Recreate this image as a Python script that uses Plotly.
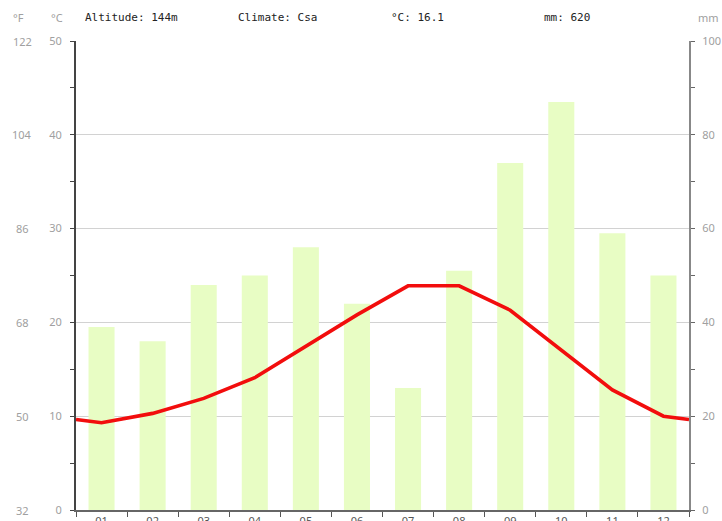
import plotly.graph_objects as go

months = ["01", "02", "03", "04", "05", "06", "07", "08", "09", "10", "11", "12"]
precip_mm = [39, 36, 48, 50, 56, 44, 26, 51, 74, 87, 59, 50]
temp_c = [9.3, 10.3, 11.9, 14.1, 17.5, 20.8, 23.9, 23.9, 21.3, 17.1, 12.8, 10.0]
c_ticks = [0, 10, 20, 30, 40, 50]
f_labels = ["32", "50", "68", "86", "104", "122"]
mm_ticks = [0, 20, 40, 60, 80, 100]
header = ["Altitude: 144m", "Climate: Csa", "°C: 16.1", "mm: 620"]

W, H = 722, 521
L, R, T, B = 76, 33, 41, 11
pw = W - L - R
ph = H - T - B

def px(x):
    return (x - L) / pw

xs = list(range(1, 13))
edge = (temp_c[0] + temp_c[-1]) / 2
line_x = [0.5] + xs + [12.5]
line_y = [edge] + temp_c + [edge]

fig = go.Figure()
fig.add_trace(go.Bar(x=xs, y=precip_mm, yaxis="y", width=0.51,
                     marker=dict(color="#e8fdc4", line=dict(width=0)),
                     hoverinfo="skip"))
fig.add_trace(go.Scatter(x=line_x, y=line_y, mode="lines", yaxis="y2",
                         line=dict(color="#f20d0d", width=3.6), hoverinfo="skip"))

tickfont = dict(family="Noto Sans, sans-serif", size=11, color="#a0a0a0")
fig.update_layout(
    width=W, height=H,
    margin=dict(l=L, r=R, t=T, b=B, autoexpand=False),
    plot_bgcolor="white", paper_bgcolor="white",
    showlegend=False,
    xaxis=dict(range=[0.5, 12.5], tickvals=xs, ticktext=months, ticks="",
               showgrid=False, zeroline=False, showline=True, linecolor="#666",
               linewidth=2, tickfont=dict(family="Noto Sans, sans-serif", size=11, color="#555"),
               minor=dict(tick0=0.5, dtick=1, ticks="outside", ticklen=5,
                          tickcolor="#555", tickwidth=1, showgrid=False)),
    yaxis=dict(range=[0, 100], tickvals=mm_ticks, side="right",
               ticks="outside", ticklen=4, tickcolor="#666",
               showgrid=True, gridcolor="#d2d2d2", gridwidth=1,
               zeroline=False, showline=True, linecolor="#888", linewidth=2,
               tickfont=tickfont, ticklabelstandoff=5,
               minor=dict(tick0=10, dtick=20, ticks="outside", ticklen=4,
                          tickcolor="#666", showgrid=False)),
    yaxis2=dict(range=[0, 50], tickvals=c_ticks, overlaying="y", side="left",
                ticks="outside", ticklen=4, tickcolor="#444", showgrid=False,
                zeroline=False, showline=True, linecolor="#444", linewidth=2,
                tickfont=tickfont, ticklabelstandoff=6,
                minor=dict(tick0=5, dtick=10, ticks="outside", ticklen=4,
                           tickcolor="#444", showgrid=False)),
)

ann = []
for c, f in zip(c_ticks, f_labels):
    ann.append(dict(x=px(22), xref="paper", y=c, yref="y2", text=f,
                    showarrow=False, xanchor="center", yanchor="middle",
                    font=tickfont))
ytop = 1 + (T - 18) / ph
ann.append(dict(x=px(18), xref="paper", y=ytop, yref="paper", text="°F",
                showarrow=False, xanchor="center", yanchor="middle", font=tickfont))
ann.append(dict(x=px(57), xref="paper", y=ytop, yref="paper", text="°C",
                showarrow=False, xanchor="center", yanchor="middle", font=tickfont))
ann.append(dict(x=px(708), xref="paper", y=ytop, yref="paper", text="mm",
                showarrow=False, xanchor="center", yanchor="middle", font=tickfont))
for i, h in enumerate(header):
    ann.append(dict(x=px(83 + 153 * i), xref="paper", y=ytop, yref="paper",
                    text=h, showarrow=False, xanchor="left", yanchor="middle",
                    font=dict(family="DejaVu Sans Mono, monospace", size=11, color="#222")))
fig.update_layout(annotations=ann)

fig.write_html("out.html",
               config={"displayModeBar": False, "staticPlot": True},
               post_script="document.body.style.margin='0';document.body.style.overflow='hidden';")
